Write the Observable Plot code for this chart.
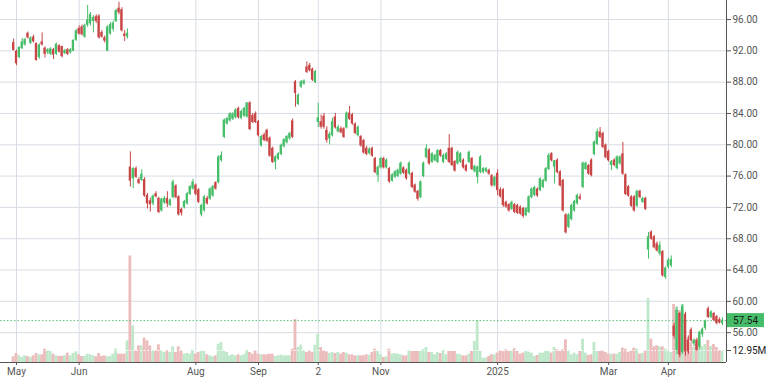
<!DOCTYPE html>
<html><head><meta charset="utf-8">
<script src="https://cdn.jsdelivr.net/npm/d3@7"></script>
<script src="https://cdn.jsdelivr.net/npm/@observablehq/plot@0.6"></script>
<style>
body{margin:0;background:#fff;}
#wrap{position:relative;width:768px;height:380px;overflow:hidden;}
#wrap svg{position:absolute;left:0;top:0;}
</style></head><body><div id="wrap"></div>
<script>
// Daily OHLC (index order, first candle = 30 Apr 2024)
const open = [
93.0,91.9,91.2,92.3,92.8,94.2,93.0,93.7,92.9,91.2,
93.1,92.3,91.8,91.6,92.1,91.6,92.6,92.5,91.7,92.1,
91.8,92.0,93.4,94.8,95.0,93.8,95.3,95.5,95.8,96.3,
96.4,94.3,93.6,92.0,94.2,94.8,95.8,97.4,97.2,94.1,
93.8,77.1,75.7,76.9,75.5,75.5,75.5,73.5,72.8,72.5,
73.7,73.1,71.6,72.6,73.1,72.3,73.3,74.7,73.3,71.7,
72.0,72.5,73.7,74.4,74.8,74.2,71.1,71.6,73.1,73.1,
73.5,75.1,75.2,78.0,81.0,82.7,83.1,83.3,83.5,84.6,
83.4,83.7,83.6,85.3,83.7,83.9,82.9,79.9,81.2,81.8,
80.8,79.5,77.8,78.2,78.8,79.8,80.3,80.8,83.0,88.0,
85.2,87.4,87.8,89.9,90.1,89.6,88.0,82.9,82.9,83.6,
81.8,80.8,81.2,83.5,81.7,82.0,82.0,82.2,84.0,83.8,
82.6,81.2,81.0,80.5,79.5,78.9,79.5,78.2,76.1,77.1,
78.2,77.1,76.9,75.4,75.9,76.0,76.3,77.0,76.7,76.3,
76.3,74.8,74.0,73.3,76.0,78.4,79.3,77.8,78.0,77.8,
79.2,77.8,78.2,79.5,79.5,77.8,77.6,77.8,78.0,77.3,
77.8,78.2,76.6,75.9,76.5,76.5,76.6,76.7,76.0,74.8,
76.3,74.2,74.2,72.6,72.3,71.8,72.3,72.2,72.0,71.8,
71.0,71.4,73.3,73.6,74.3,74.2,74.6,75.4,76.9,78.8,
77.2,78.0,76.5,75.4,71.0,69.5,70.5,71.6,72.5,73.3,
74.6,76.9,77.3,78.0,78.8,80.1,81.6,81.4,79.9,79.1,
77.4,78.0,77.0,77.6,78.8,76.1,74.6,73.3,73.3,72.2,
74.0,72.7,73.1,66.6,68.8,68.2,67.3,66.1,66.3,63.1,
64.4,64.6,56.8,53.8,58.4,53.5,58.3,55.0,56.3,54.6,
55.0,54.2,55.8,56.6,59.0,58.0,58.4,58.0,57.6,57.2];
const high = [
93.5,92.1,92.5,93.6,93.6,94.4,93.8,94.0,93.0,92.9,
94.3,92.5,92.3,92.4,92.3,93.0,92.8,92.6,92.2,92.3,
92.3,93.4,94.7,95.2,95.3,95.4,97.8,96.9,96.5,96.6,
96.6,94.6,93.9,95.2,95.6,95.8,97.3,98.2,97.5,94.6,
94.8,79.1,77.1,77.2,75.8,76.8,75.8,73.8,73.2,73.6,
74.0,73.3,73.2,73.4,74.0,73.1,75.5,74.9,73.5,71.9,
72.9,73.9,74.8,75.6,75.0,74.4,72.4,73.5,73.4,74.5,
74.8,75.3,78.6,79.1,83.3,83.5,84.1,84.1,84.6,84.8,
84.4,84.8,85.4,85.5,84.0,84.2,83.1,81.2,81.5,82.0,
81.0,79.7,78.6,79.0,80.1,80.8,81.2,81.6,83.3,88.2,
86.5,88.2,88.3,90.6,90.4,89.8,89.5,85.3,83.8,84.0,
82.3,81.6,83.4,84.0,82.5,82.3,82.2,84.2,84.9,84.0,
82.8,82.4,81.2,80.7,79.8,79.6,79.7,78.4,77.3,78.4,
78.4,78.2,77.1,76.3,76.7,76.9,77.8,77.2,76.9,77.8,
76.5,75.0,74.2,75.4,77.8,80.0,79.5,79.0,78.8,79.4,
79.4,78.8,79.0,81.3,79.7,78.0,79.2,79.0,78.2,77.5,
79.2,78.4,77.4,77.3,78.6,77.1,77.1,76.9,76.2,76.0,
76.8,74.5,74.4,72.8,72.5,72.8,72.5,72.4,72.2,72.0,
72.0,73.5,74.5,74.7,74.5,75.8,75.6,77.1,78.9,79.0,
78.0,78.2,76.7,75.6,71.2,71.2,72.4,72.9,73.7,73.7,
77.8,77.8,77.5,78.2,80.5,82.0,82.2,81.6,80.1,79.3,
78.0,78.2,78.6,78.6,80.3,76.3,74.8,73.5,73.5,74.2,
74.2,73.3,73.3,68.8,69.0,68.4,67.6,67.6,66.5,64.4,
65.5,65.8,57.2,59.3,58.6,59.6,58.6,55.6,56.6,55.2,
55.3,56.2,56.6,57.6,59.3,58.8,58.6,58.2,57.9,57.9];
const low = [
92.0,90.1,91.0,92.2,92.6,93.5,92.8,93.0,90.7,90.9,
92.6,91.1,91.5,91.4,90.9,91.4,91.7,91.1,91.5,91.4,
91.6,91.9,93.2,94.0,93.9,93.6,95.0,95.2,94.3,95.5,
93.5,93.6,93.0,91.9,94.0,94.4,95.6,96.6,94.4,93.2,
93.5,74.6,74.4,75.7,74.9,75.3,73.3,71.8,71.4,72.2,
73.2,71.2,71.4,72.4,72.0,72.1,73.1,73.1,70.9,70.9,
71.8,72.3,73.5,74.2,73.5,72.5,70.8,71.4,72.3,72.9,
73.3,74.2,75.0,77.8,80.8,82.5,82.9,83.1,83.3,83.3,
83.2,83.5,83.4,81.8,82.7,82.7,81.0,79.7,80.4,80.3,
78.4,77.6,76.8,78.0,78.6,79.6,80.1,80.6,80.8,84.8,
85.0,87.2,87.6,89.1,89.3,88.1,87.8,82.2,82.0,82.0,
80.2,80.0,81.0,82.0,81.5,81.4,80.8,82.0,83.1,82.5,
81.3,81.0,79.7,78.8,78.6,78.7,78.4,76.3,75.2,76.9,
76.9,76.9,75.1,75.2,75.7,75.8,76.1,76.2,75.5,76.1,
74.4,73.8,72.8,73.1,75.8,78.2,77.4,77.6,77.8,77.6,
78.4,77.6,78.0,77.6,77.2,76.5,77.4,77.6,76.9,76.5,
77.6,76.7,76.4,75.0,76.3,76.3,76.4,76.1,74.6,74.6,
73.5,73.2,72.0,71.9,71.4,71.6,71.2,71.1,71.0,70.6,
70.8,71.2,73.1,73.4,73.3,74.0,74.4,75.2,76.7,77.8,
75.0,76.3,74.6,71.4,68.6,69.3,70.3,71.4,72.3,72.9,
74.4,76.7,76.1,75.9,78.6,79.9,80.8,79.5,78.2,77.8,
76.7,77.2,76.8,77.4,76.1,73.5,73.3,72.0,71.4,72.0,
73.1,72.5,71.6,65.4,67.8,66.7,66.3,65.8,63.1,62.8,
64.1,64.3,55.2,53.2,52.8,53.2,53.0,53.2,54.8,54.2,
53.6,53.8,55.4,56.3,57.8,57.8,57.4,57.0,57.1,56.9];
const close = [
92.1,90.4,92.4,93.1,93.4,93.7,93.6,93.2,90.8,92.7,
92.8,91.6,92.1,92.2,91.5,92.8,91.9,91.3,92.0,91.6,
92.1,93.3,94.5,94.2,94.1,95.2,95.9,96.6,96.2,95.8,
93.7,93.8,93.3,95.0,95.3,95.5,97.1,96.9,94.6,93.9,
94.2,75.4,76.9,75.9,75.1,76.2,73.5,72.5,72.4,73.4,
73.4,71.4,73.0,73.1,72.5,72.9,75.2,73.3,71.1,71.3,
72.7,73.7,74.6,75.2,73.7,72.7,72.2,73.3,72.5,74.3,
74.6,74.4,78.4,78.6,83.1,83.3,83.9,83.9,84.4,83.5,
84.2,84.6,85.3,82.0,82.9,82.9,81.2,81.0,80.6,80.5,
78.6,77.8,78.4,78.8,79.9,80.6,81.0,81.4,81.0,86.6,
86.3,88.0,88.1,89.3,89.5,88.3,89.3,83.4,82.3,82.3,
80.6,81.3,82.9,82.2,82.2,81.6,81.0,84.0,83.3,82.7,
81.5,82.2,79.9,79.0,78.8,79.4,78.6,76.5,77.1,78.2,
77.1,78.0,75.3,76.1,76.5,76.7,77.6,76.4,75.7,77.6,
74.6,74.0,73.1,75.2,77.6,79.5,77.6,78.8,78.6,79.2,
78.6,78.6,78.8,77.8,77.4,76.7,79.0,78.8,77.1,76.7,
79.0,76.9,77.2,77.1,78.4,76.9,76.9,76.3,74.8,75.8,
74.2,73.4,72.3,72.1,71.6,72.6,71.4,71.3,71.2,70.9,
71.8,73.3,74.3,74.5,73.5,75.6,75.4,76.9,78.6,78.0,
77.9,76.5,74.8,71.6,68.8,71.0,72.2,72.7,73.5,73.1,
77.6,77.6,76.3,76.1,80.3,81.6,81.0,79.7,78.4,78.0,
77.8,77.4,78.4,78.4,76.3,73.7,73.5,72.2,71.6,74.0,
73.3,73.1,71.8,68.2,68.0,66.9,66.5,67.1,63.3,64.2,
65.2,65.3,55.6,58.8,53.2,59.3,53.6,53.6,55.0,55.0,
53.8,56.0,56.4,57.4,58.0,58.6,57.6,57.2,57.3,57.54];
// Volume, millions of shares
const volume = [
6.1,9.7,7.2,5.4,7.2,6.5,5.4,7.2,9.7,8.3,
8.3,14.4,12.6,11.9,9.0,7.2,6.5,6.8,7.2,10.1,
7.2,9.7,11.5,8.3,6.5,6.5,9.0,8.3,7.2,6.1,
9.7,6.5,7.2,6.1,6.5,9.0,14.4,9.0,9.0,9.0,
23.4,115,39.6,12.6,18.0,18.0,26.3,23.4,18.0,12.6,
12.6,19.1,12.6,10.8,12.6,10.8,16.9,10.8,16.9,12.6,
9.0,9.7,9.0,13.3,9.0,10.8,11.9,11.9,8.3,7.2,
6.1,7.2,19.8,21.6,12.6,10.8,7.2,8.3,7.2,8.3,
7.2,8.3,13.3,10.8,9.0,12.6,9.0,8.3,8.3,8.3,
9.0,9.0,6.5,7.2,7.9,7.2,7.2,7.2,14.4,46.4,
16.2,18.7,12.6,10.8,12.6,10.8,18.7,30.6,16.2,12.6,
11.5,9.7,10.8,9.7,10.8,9.0,10.8,10.1,8.3,8.3,
7.2,7.2,7.2,7.2,8.3,7.9,10.8,14.4,11.9,8.3,
5.4,6.1,14.4,9.0,9.7,9.0,8.3,7.2,7.2,12.6,
11.9,11.9,11.9,11.9,14.0,16.2,10.8,10.8,8.3,10.8,
9.7,13.3,8.3,11.9,11.9,11.9,9.0,8.3,7.2,7.2,
9.0,11.9,22.7,45.4,12.6,4.7,4.7,6.5,8.3,8.3,
10.1,12.6,11.9,13.7,11.9,12.6,14.8,11.9,9.0,10.1,
11.9,11.2,10.1,6.5,7.6,10.1,10.1,11.9,11.9,10.1,
16.2,13.7,11.9,13.7,24.5,12.6,8.3,10.1,8.3,11.9,
25.2,10.1,7.6,8.3,21.6,11.9,11.9,12.6,10.8,9.0,
9.0,9.0,9.0,10.8,15.5,14.4,10.8,12.6,15.5,14.4,
9.0,9.7,12.6,69.0,25.2,16.9,18.0,16.9,16.9,14.4,
12.6,10.8,62.6,59.4,56.2,62.6,45.4,27.0,21.6,16.2,
19.4,21.6,17.3,19.4,23.8,17.3,19.4,16.2,13.0,12.95];

const tickIdx = [1, 23, 64, 86, 107, 129, 170, 209, 230];
const tickLabels = ["May", "Jun", "Aug", "Sep", "2", "Nov", "2025", "Mar", "Apr"];
const priceTicks = [56, 60, 64, 68, 72, 76, 80, 84, 88, 92, 96];
const lastPrice = 57.54;
const lastVolume = 12.95;

const UP = "#46bd68", DOWN = "#c94545";
const VOL_UP = "#bfe8cb", VOL_DOWN = "#ecbcbc";
const GRID = "#d8dce4", AXIS = "#555";
const FONT = "Roboto, 'Noto Sans', sans-serif";

const W = 768, H = 380;
const M = {marginTop: 0, marginBottom: 18, marginLeft: 0, marginRight: 42};
const xDomain = [-4.62, 250.4];
const yDomain = [52.19, 98.43];
const vDomain = [0, 390.7];

const data = open.map((o, k) => ({k, o, h: high[k], l: low[k], c: close[k], v: volume[k]}));
const ups = data.filter(d => d.c >= d.o);
const downs = data.filter(d => d.c < d.o);

const common = {
  width: W, height: H, ...M,
  style: {fontFamily: FONT, fontSize: "10px", color: AXIS, background: "transparent", overflow: "visible"}
};

// Layer 1: grid and axes
const base = Plot.plot({
  ...common,
  x: {domain: xDomain, label: null},
  y: {domain: yDomain, label: null},
  marks: [
    Plot.gridX(tickIdx, {stroke: GRID, strokeOpacity: 1}),
    Plot.gridY(priceTicks, {stroke: GRID, strokeOpacity: 1}),
    Plot.axisX(tickIdx, {tickFormat: d => tickLabels[tickIdx.indexOf(d)], tickSize: 3, tickPadding: 2, stroke: AXIS, fill: AXIS, fontSize: 10, label: null}),
    Plot.axisY(priceTicks, {anchor: "right", tickFormat: d => d.toFixed(2), tickSize: 4, tickPadding: 2, stroke: AXIS, fill: AXIS, fontSize: 10, label: null}),
    Plot.ruleY([yDomain[0]], {stroke: AXIS}),
    Plot.ruleX([xDomain[1]], {stroke: AXIS})
  ]
});

// Layer 2: volume
const vol = Plot.plot({
  ...common,
  x: {domain: xDomain, axis: null, label: null},
  y: {domain: vDomain, axis: null, label: null},
  marks: [
    Plot.rect(ups, {x1: d => d.k - 0.5, x2: d => d.k + 0.5, y1: 0, y2: "v", fill: VOL_UP}),
    Plot.rect(downs, {x1: d => d.k - 0.5, x2: d => d.k + 0.5, y1: 0, y2: "v", fill: VOL_DOWN}),
    Plot.ruleY([lastVolume], {x1: xDomain[0], x2: xDomain[1], stroke: "#fff", strokeDasharray: "1.5,2"}),
    Plot.axisY([lastVolume], {anchor: "right", tickFormat: d => d.toFixed(2) + "M", tickSize: 4, tickPadding: 2, stroke: AXIS, fill: "#222", fontSize: 10, label: null})
  ]
});

// Layer 3: candles
const candles = Plot.plot({
  ...common,
  x: {domain: xDomain, axis: null, label: null},
  y: {domain: yDomain, axis: null, label: null},
  marks: [
    Plot.ruleY([lastPrice], {stroke: UP, strokeDasharray: "1.5,2", strokeOpacity: 0.9}),
    Plot.ruleX(ups, {x: "k", y1: "l", y2: "h", stroke: UP, strokeWidth: 1}),
    Plot.ruleX(downs, {x: "k", y1: "l", y2: "h", stroke: DOWN, strokeWidth: 1}),
    Plot.rect(ups, {x1: d => d.k - 0.4, x2: d => d.k + 0.4, y1: "o", y2: "c", fill: UP, insetTop: -0.4, insetBottom: -0.4}),
    Plot.rect(downs, {x1: d => d.k - 0.4, x2: d => d.k + 0.4, y1: "o", y2: "c", fill: DOWN, insetTop: -0.4, insetBottom: -0.4})
  ]
});

// last price tag on the right axis
{
  const y = candles.scale("y").apply(lastPrice);
  const x0 = candles.scale("x").apply(xDomain[1]);
  const s = d3.select(candles);
  s.append("rect").attr("x", x0 + 1).attr("y", y - 7).attr("width", 37).attr("height", 14).attr("fill", UP);
  s.append("text").attr("x", x0 + 19.5).attr("y", y).attr("dy", "0.35em").attr("text-anchor", "middle")
    .attr("font-size", 10).attr("fill", "#1a1a1a").text(lastPrice.toFixed(2));
}

const wrap = document.getElementById("wrap");
wrap.append(base, vol, candles);
</script></body></html>
